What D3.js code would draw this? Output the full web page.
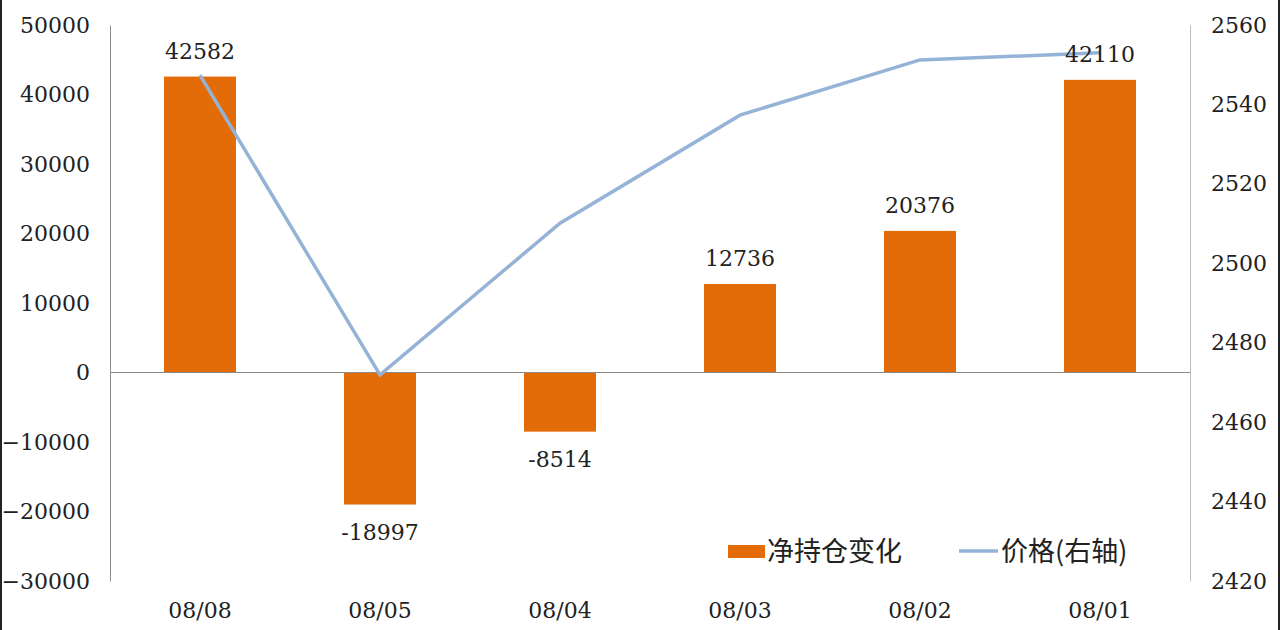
<!DOCTYPE html>
<html>
<head>
<meta charset="utf-8">
<script src="https://cdn.jsdelivr.net/npm/d3@7"></script>
<style>
  html, body { margin: 0; padding: 0; background: #fff; }
  svg { display: block; }
</style>
</head>
<body>
<div id="chart"></div>
<script>
// data
var dates = ["08/08", "08/05", "08/04", "08/03", "08/02", "08/01"];
var netChange = [42582, -18997, -8514, 12736, 20376, 42110];
var price = [2547.4, 2471.9, 2510.1, 2537.3, 2551.2, 2553.0];
var leftTicks = [-30000, -20000, -10000, 0, 10000, 20000, 30000, 40000, 50000];
var rightTicks = [2420, 2440, 2460, 2480, 2500, 2520, 2540, 2560];
var legendNames = ["净持仓变化", "价格(右轴)"];

var W = 1280, H = 630;
var plotLeft = 110, plotRight = 1190, plotTop = 25, plotBottom = 581;
var numFont = "'DejaVu Serif', 'Liberation Serif', serif";
var cjkFont = "'Noto Sans CJK SC', 'Noto Sans', sans-serif";

var svg = d3.select("#chart").append("svg")
    .attr("width", W)
    .attr("height", H);

// thin frame on the sides
svg.append("line").attr("x1", 1).attr("x2", 1).attr("y1", 0).attr("y2", H)
    .attr("stroke", "#222").attr("stroke-width", 2);
svg.append("line").attr("x1", W - 1).attr("x2", W - 1).attr("y1", 0).attr("y2", H)
    .attr("stroke", "#222").attr("stroke-width", 2);

var x = d3.scaleBand().domain(dates).range([plotLeft, plotRight]).paddingInner(0.6).paddingOuter(0.3);
var xc = d3.scalePoint().domain(dates).range([plotLeft, plotRight]).padding(0.5);
var yL = d3.scaleLinear().domain([-30000, 50000]).range([plotBottom, plotTop]);
var yR = d3.scaleLinear().domain([2420, 2560]).range([plotBottom, plotTop]);

// left axis
var axL = svg.append("g")
    .attr("transform", "translate(" + plotLeft + ",0)")
    .call(d3.axisLeft(yL).tickValues(leftTicks).tickSize(0).tickPadding(20).tickFormat(d3.format("d")));
axL.select(".domain").attr("stroke", "#8c8c8c").attr("stroke-width", 1);
axL.selectAll("text").attr("font-family", numFont).attr("font-size", "22px").attr("fill", "#222");

// right axis
var axR = svg.append("g")
    .attr("transform", "translate(" + plotRight + ",0)")
    .call(d3.axisRight(yR).tickValues(rightTicks).tickSize(0).tickPadding(21).tickFormat(d3.format("d")));
axR.select(".domain").attr("stroke", "#bdbdbd").attr("stroke-width", 1);
axR.selectAll("text").attr("font-family", numFont).attr("font-size", "22px").attr("fill", "#222");

// bars
svg.selectAll("rect.bar")
    .data(netChange)
    .enter()
    .append("rect")
    .attr("class", "bar")
    .attr("x", function (d, i) { return x(dates[i]); })
    .attr("width", x.bandwidth())
    .attr("y", function (d) { return yL(Math.max(0, d)); })
    .attr("height", function (d) { return Math.abs(yL(d) - yL(0)); })
    .attr("fill", "#E36C09");

// zero line
svg.append("line")
    .attr("x1", plotLeft).attr("x2", plotRight)
    .attr("y1", yL(0)).attr("y2", yL(0))
    .attr("stroke", "#8c8c8c").attr("stroke-width", 1);

// price line
var line = d3.line()
    .x(function (d, i) { return xc(dates[i]); })
    .y(function (d) { return yR(d); });
svg.append("path")
    .datum(price)
    .attr("d", line)
    .attr("fill", "none")
    .attr("stroke", "#95B3D7")
    .attr("stroke-width", 3.5);

// bar labels
svg.selectAll("text.lbl")
    .data(netChange)
    .enter()
    .append("text")
    .attr("class", "lbl")
    .attr("x", function (d, i) { return xc(dates[i]); })
    .attr("y", function (d) { return d >= 0 ? yL(d) - 18 : yL(d) + 35; })
    .attr("text-anchor", "middle")
    .attr("font-family", numFont)
    .attr("font-size", "22px")
    .attr("fill", "#222")
    .text(function (d) { return d; });

// category labels
svg.selectAll("text.cat")
    .data(dates)
    .enter()
    .append("text")
    .attr("class", "cat")
    .attr("x", function (d) { return xc(d); })
    .attr("y", 618)
    .attr("text-anchor", "middle")
    .attr("font-family", numFont)
    .attr("font-size", "22px")
    .attr("fill", "#222")
    .text(function (d) { return d; });

// legend
var lg = svg.append("g");
lg.append("rect").attr("x", 728).attr("y", 545).attr("width", 37).attr("height", 13).attr("fill", "#E36C09");
lg.append("text").attr("x", 767).attr("y", 561)
    .attr("font-family", cjkFont).attr("font-size", "27px").attr("fill", "#222")
    .text(legendNames[0]);
lg.append("line").attr("x1", 959).attr("x2", 998).attr("y1", 551).attr("y2", 551)
    .attr("stroke", "#95B3D7").attr("stroke-width", 3.5);
lg.append("text").attr("x", 1001).attr("y", 561)
    .attr("font-family", cjkFont).attr("font-size", "27px").attr("fill", "#222")
    .text(legendNames[1]);
</script>
</body>
</html>
